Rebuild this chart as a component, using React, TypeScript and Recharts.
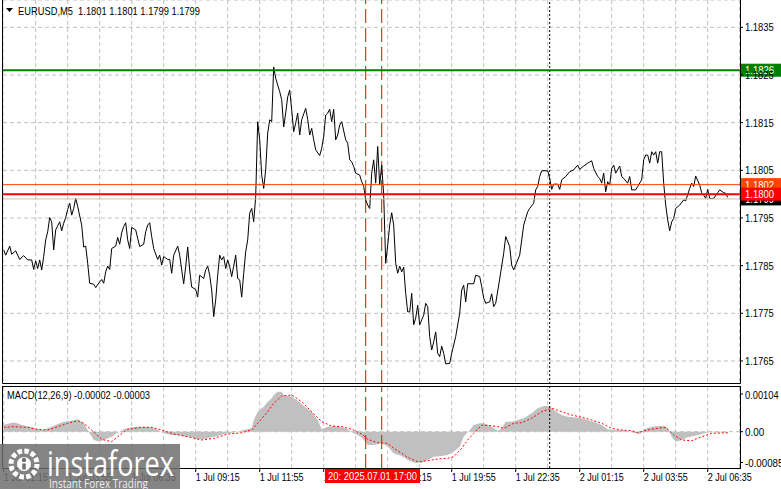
import React from "react";
import {
  ComposedChart,
  Line,
  Area,
  XAxis,
  YAxis,
  CartesianGrid,
  ReferenceLine,
} from "recharts";

// ── Data ─────────────────────────────────────────────────────────────
// bar index (M5 bars from 1 Jul 01:15) → close
const priceSeries: [number, number][] = [
  [0, 1.17883], [1, 1.17872], [3, 1.17891], [4, 1.17874], [6, 1.17881], [7, 1.17872], [8, 1.17863],
  [10, 1.17871], [12, 1.17862], [14, 1.17862], [15, 1.17842], [16, 1.1786], [17, 1.17844], [18, 1.17862],
  [19, 1.17841], [20, 1.17869], [21, 1.17904], [22, 1.17921], [23, 1.17951], [24, 1.17942], [25, 1.17883],
  [26, 1.17925], [28, 1.17942], [29, 1.17923], [30, 1.17939], [31, 1.17951], [32, 1.17968], [33, 1.17981],
  [34, 1.17956], [35, 1.1797], [36, 1.17991], [37, 1.17974], [39, 1.17935], [40, 1.17889], [41, 1.17891],
  [42, 1.17855], [43, 1.17813], [45, 1.17811], [46, 1.17804], [48, 1.17816], [49, 1.17821], [50, 1.17813],
  [51, 1.17837], [52, 1.17849], [53, 1.17842], [54, 1.17886], [56, 1.17891], [57, 1.17909], [58, 1.17895],
  [59, 1.17919], [60, 1.17932], [61, 1.1794], [62, 1.17904], [63, 1.17886], [64, 1.1793], [66, 1.17925],
  [67, 1.17907], [68, 1.1789], [70, 1.17895], [71, 1.17921], [72, 1.17935], [73, 1.1794], [74, 1.17911],
  [75, 1.17886], [77, 1.17863], [78, 1.17872], [79, 1.17851], [80, 1.17869], [82, 1.17863], [83, 1.17863],
  [84, 1.17834], [85, 1.17872], [87, 1.17891], [88, 1.17872], [89, 1.17841], [90, 1.17812], [91, 1.17848],
  [92, 1.17889], [93, 1.17841], [94, 1.17805], [96, 1.178], [97, 1.17784], [98, 1.1783], [100, 1.17823],
  [101, 1.17841], [102, 1.17849], [103, 1.1783], [104, 1.17799], [105, 1.17743], [106, 1.17778], [107, 1.1783],
  [108, 1.17872], [109, 1.17862], [110, 1.17869], [111, 1.17844], [112, 1.17862], [113, 1.17848], [114, 1.17827],
  [115, 1.17849], [116, 1.17872], [117, 1.17823], [118, 1.1782], [119, 1.17784], [120, 1.17834], [121, 1.17879],
  [122, 1.17904], [123, 1.1796], [124, 1.1797], [125, 1.17942], [126, 1.17995], [127, 1.18152], [128, 1.18114],
  [129, 1.1804], [130, 1.18012], [131, 1.18051], [132, 1.18128], [133, 1.18156], [134, 1.18152], [135, 1.18267],
  [136, 1.18243], [138, 1.18215], [139, 1.18198], [140, 1.18141], [141, 1.1817], [142, 1.18204], [143, 1.18218],
  [144, 1.18177], [145, 1.18131], [146, 1.18149], [147, 1.1817], [148, 1.18124], [149, 1.18156], [151, 1.1818],
  [152, 1.18157], [153, 1.18124], [154, 1.18138], [155, 1.18114], [156, 1.18093], [158, 1.18081], [159, 1.18096],
  [160, 1.18121], [161, 1.18166], [162, 1.1817], [163, 1.18178], [164, 1.18152], [165, 1.18178], [166, 1.18114],
  [167, 1.18124], [168, 1.18145], [169, 1.18152], [171, 1.18114], [172, 1.18107], [173, 1.18072], [174, 1.18068],
  [175, 1.18058], [176, 1.18044], [178, 1.1804], [179, 1.18026], [180, 1.18016], [181, 1.17988], [182, 1.17977],
  [183, 1.1797], [184, 1.18044], [185, 1.18072], [186, 1.18023], [187, 1.181], [188, 1.18019], [189, 1.18061],
  [190, 1.17998], [191, 1.17855], [192, 1.17893], [193, 1.17935], [194, 1.17961], [195, 1.17935], [196, 1.17855],
  [197, 1.17834], [198, 1.17849], [199, 1.17837], [200, 1.17847], [201, 1.17792], [202, 1.17753], [203, 1.17753],
  [204, 1.17792], [205, 1.17726], [206, 1.1774], [207, 1.17767], [208, 1.17726], [210, 1.17746], [211, 1.17771],
  [212, 1.17764], [213, 1.17701], [214, 1.17673], [215, 1.1769], [216, 1.17711], [217, 1.17666], [218, 1.17659],
  [219, 1.17681], [220, 1.17666], [221, 1.17644], [223, 1.17645], [224, 1.17666], [226, 1.17701], [228, 1.1775],
  [229, 1.17799], [230, 1.17809], [231, 1.17774], [232, 1.17812], [235, 1.17812], [236, 1.1783], [238, 1.17827],
  [239, 1.17806], [240, 1.17782], [241, 1.17771], [243, 1.17774], [244, 1.17791], [245, 1.17764], [246, 1.17771],
  [248, 1.17822], [250, 1.17876], [251, 1.17911], [253, 1.1789], [254, 1.17851], [255, 1.17841], [258, 1.17872],
  [260, 1.17935], [262, 1.17963], [263, 1.1797], [265, 1.17981], [266, 1.18009], [267, 1.18016], [268, 1.18037],
  [269, 1.18049], [272, 1.18049], [273, 1.18033], [274, 1.1801], [275, 1.18021], [277, 1.18021], [278, 1.1801],
  [279, 1.1803], [281, 1.18037], [283, 1.18047], [285, 1.18051], [287, 1.18061], [288, 1.18052], [290, 1.18059],
  [292, 1.18065], [294, 1.1807], [295, 1.18054], [297, 1.18037], [298, 1.18033], [299, 1.18023], [300, 1.18044],
  [301, 1.18005], [302, 1.18026], [303, 1.18019], [304, 1.18054], [305, 1.18061], [306, 1.18044], [308, 1.18059],
  [309, 1.18037], [310, 1.18033], [312, 1.18023], [313, 1.18037], [314, 1.18009], [316, 1.18009], [317, 1.18016],
  [319, 1.1803], [320, 1.18072], [321, 1.18082], [322, 1.18082], [323, 1.18065], [324, 1.18089], [325, 1.18082],
  [326, 1.18089], [327, 1.18065], [328, 1.18089], [329, 1.18089], [330, 1.18023], [331, 1.17977], [332, 1.17946],
  [333, 1.17923], [334, 1.17942], [335, 1.17949], [336, 1.1797], [338, 1.17977], [340, 1.17988], [341, 1.17986],
  [343, 1.18012], [344, 1.18023], [345, 1.18016], [346, 1.18038], [348, 1.18019], [349, 1.18003], [350, 1.17998],
  [351, 1.17991], [352, 1.1801], [353, 1.17991], [355, 1.17991], [357, 1.18003], [358, 1.18009], [360, 1.18003],
  [361, 1.18002], [362, 1.17993],
];

const macdHist: [number, number][] = [
  [0, 0.000185], [4, 0.000248], [6, 0.000248], [9, 0.000185], [14, 0.000121], [17, 0.000066], [20, 0.000047],
  [24, 0.000138], [27, 0.000212], [30, 0.000276], [34, 0.000303], [37, 0.000342], [40, 0.000232], [42, 0.000047],
  [44, -0.000138], [45, -0.000229], [48, -0.000276], [50, -0.000229], [54, -0.000138], [57, -0.000028],
  [60, 0.000066], [64, 0.000121], [67, 0.000138], [70, 0.000138], [74, 0.000121], [77, 0.000047], [80, -0.000044],
  [84, -0.000091], [87, -0.000091], [90, -0.000119], [94, -0.000155], [97, -0.00021], [100, -0.00021],
  [104, -0.000155], [107, -0.000119], [110, -0.000064], [114, -0.000028], [117, 0], [120, 0.000047],
  [124, 0.000094], [125, 0.000323], [127, 0.000552], [129, 0.000646], [130, 0.00069], [132, 0.000828],
  [134, 0.000921], [135, 0.001013], [137, 0.001104], [139, 0.001104], [140, 0.001013], [144, 0.000966],
  [147, 0.000855], [150, 0.000709], [154, 0.000552], [157, 0.000323], [159, 0.000066], [162, 0.000138],
  [165, 0.000157], [169, 0.000121], [172, 0.000066], [175, -0.000044], [179, -0.000155], [182, -0.000367],
  [185, -0.000367], [189, -0.00032], [192, -0.00041], [195, -0.000596], [199, -0.00067], [202, -0.000781],
  [205, -0.000855], [209, -0.000855], [212, -0.000781], [215, -0.00069], [219, -0.00067], [222, -0.000643],
  [225, -0.000552], [228, -0.000414], [230, -0.000138], [233, 0.000047], [235, 0.000185], [238, 0.000232],
  [240, 0.000232], [244, 0.000138], [247, 0.000028], [249, 0.000094], [251, 0.000276], [254, 0.000276],
  [257, 0.000323], [260, 0.00037], [264, 0.000508], [267, 0.000646], [270, 0.000709], [273, 0.000709],
  [275, 0.000599], [279, 0.000461], [282, 0.000414], [285, 0.000397], [289, 0.00037], [292, 0.000323],
  [295, 0.000276], [299, 0.000185], [302, 0.000066], [305, 0.000047], [309, 0.000047], [312, 0.000028],
  [315, -0.000028], [318, -0.000064], [320, 0.000066], [324, 0.000138], [327, 0.000157], [330, 0.000157],
  [332, 0.000094], [334, -0.000138], [336, -0.000276], [339, -0.000229], [342, -0.000155], [345, -0.000119],
  [349, -0.000064], [352, -0.000018], [355, -0.000018], [362, -0.00002],
];

const macdSignal: [number, number][] = [
  [0, 0.000121], [5, 0.000138], [12, 0.000121], [17, 0.000066], [22, 0.000047], [27, 0.000138], [32, 0.000232],
  [37, 0.000303], [40, 0.000232], [44, 0.000047], [49, -0.00021], [54, -0.000276], [57, -0.000138], [62, 0.000066],
  [69, 0.000121], [74, 0.000121], [79, 0.000047], [85, -0.000064], [92, -0.000138], [99, -0.000229],
  [105, -0.000184], [112, -0.000064], [119, -0.000028], [124, 0.000047], [127, 0.000232], [132, 0.000552],
  [135, 0.000784], [139, 0.000985], [144, 0.001013], [149, 0.000828], [154, 0.000552], [159, 0.000276],
  [164, 0.000157], [169, 0.000138], [174, 0.000066], [179, -0.000064], [182, -0.00021], [187, -0.000303],
  [192, -0.00032], [195, -0.000458], [199, -0.000596], [202, -0.000706], [207, -0.000828], [212, -0.0008],
  [217, -0.000753], [222, -0.000734], [225, -0.00069], [229, -0.000458], [232, -0.000229], [235, -0.000044],
  [239, 0.000177], [242, 0.000177], [247, 0.000138], [250, 0.000094], [255, 0.000232], [259, 0.000248],
  [264, 0.00037], [269, 0.000552], [274, 0.000646], [279, 0.000552], [284, 0.000461], [289, 0.000397],
  [294, 0.000323], [299, 0.000232], [304, 0.000094], [309, 0.000047], [314, 0.000028], [317, -0.000028],
  [322, 0.000047], [327, 0.000094], [331, 0.000121], [335, -0.000091], [339, -0.000229], [344, -0.000248],
  [349, -0.000138], [354, -0.000044], [362, -0.00003],
];

const priceTicks = [1.1765, 1.1775, 1.1785, 1.1795, 1.1805, 1.1815, 1.1825, 1.1835];
const macdTicks = [-0.00085, 0, 0.00104];
const timeLabels = [
  "1 Jul 01:15", "1 Jul 03:55", "1 Jul 06:35", "1 Jul 09:15", "1 Jul 11:55", "1 Jul 14:35",
  "1 Jul 17:15", "1 Jul 19:55", "1 Jul 22:35", "2 Jul 01:15", "2 Jul 03:55", "2 Jul 06:35",
];

const symbol = "EURUSD,M5";
const lastOhlc = [1.1801, 1.1801, 1.1799, 1.1799];
const macdValues = [-0.00002, -0.00003];
const buyLevel = 1.1826;
const sellLevels = [1.1802, 1.18];
const bidPrice = 1.1799;
const markerBars = [181, 189];
const daySeparatorBar = 273;
const crossLabel = "20: 2025.07.01 17:00";

// ── Layout ───────────────────────────────────────────────────────────

const FONT = "'Liberation Sans', Arial, sans-serif";
const BARS_PER_LABEL = 32;
const gridTicks = Array.from({ length: 24 }, (_, k) => k * 16);
const xDomain: [number, number] = [-0.35, 368.15];
const priceDomain: [number, number] = [1.176017, 1.184073];
const macdDomain: [number, number] = [-0.0010015, 0.0012333];

const priceData = priceSeries.map(([bar, price]) => ({ bar, price }));
const histData = macdHist.map(([bar, value]) => ({ bar, value }));
const signalData = macdSignal.map(([bar, value]) => ({ bar, value }));

const fit = (s: string) => s.length * 4.8;

const PriceTick = ({ x, y, payload }: any) => {
  const s = payload.value.toFixed(4);
  return (
    <text x={x} y={y + 4} fontSize={11} fill="#000" fontFamily={FONT} textAnchor="start"
      textLength={fit(s)} lengthAdjust="spacingAndGlyphs">{s}</text>
  );
};

const MacdTick = ({ x, y, payload }: any) => {
  const s = payload.value === 0 ? "0.00" : payload.value.toFixed(5);
  return (
    <text x={x} y={y + 4} fontSize={11} fill="#000" fontFamily={FONT} textAnchor="start"
      textLength={fit(s)} lengthAdjust="spacingAndGlyphs">{s}</text>
  );
};

const TimeTick = ({ x, y, payload }: any) => {
  if (payload.value % BARS_PER_LABEL !== 0) return <g />;
  const label = timeLabels[payload.value / BARS_PER_LABEL];
  if (!label) return <g />;
  return (
    <g>
      <line x1={x} x2={x} y1={y} y2={y + 4} stroke="#000" />
      <text x={x} y={y + 13} fontSize={11} fill="#000" fontFamily={FONT} textAnchor="start"
        textLength={44} lengthAdjust="spacingAndGlyphs">{label}</text>
    </g>
  );
};

const tagFor = (fill: string, text: string) => (props: any) => {
  const { x, y, width } = props.viewBox;
  return (
    <g>
      <rect x={x + width + 1} y={y - 6.5} width={40} height={13} fill={fill} />
      <text x={x + width + 5} y={y + 4} fontSize={11} fill="#fff" fontFamily={FONT}
        textLength={29} lengthAdjust="spacingAndGlyphs">{text}</text>
    </g>
  );
};

// ── Component ────────────────────────────────────────────────────────

export default function App() {
  const header = `${symbol}  ${lastOhlc.map((v) => v.toFixed(4)).join(" ")}`;
  const macdHeader = `MACD(12,26,9) ${macdValues.map((v) => v.toFixed(5)).join(" ")}`;

  return (
    <div style={{ position: "absolute", left: 0, top: 0, width: 781, height: 489, background: "#fff", overflow: "hidden" }}>
      <div style={{ position: "absolute", left: 0, top: 0 }}>
        <ComposedChart width={781} height={384} margin={{ top: 0, right: 0, bottom: 0, left: 3 }}>
          <CartesianGrid stroke="#c0c0c0" strokeDasharray="4 3" />
          <XAxis type="number" dataKey="bar" domain={xDomain} ticks={gridTicks} allowDataOverflow hide />
          <YAxis orientation="right" width={41} domain={priceDomain} ticks={priceTicks} allowDataOverflow
            axisLine={false} tickLine={{ stroke: "#000" }} tickSize={3} tickMargin={2} tick={<PriceTick />} />
          {markerBars.map((b) => (
            <ReferenceLine key={b} x={b} stroke="#ff0000" strokeDasharray="14 5" />
          ))}
          <ReferenceLine x={daySeparatorBar} stroke="#000" strokeDasharray="2 2" />
          <Line data={priceData} dataKey="price" type="linear" stroke="#000" strokeWidth={1} dot={false}
            isAnimationActive={false} />
          <ReferenceLine y={bidPrice} stroke="#c0c0c0" label={tagFor("#000", bidPrice.toFixed(4))} />
          <ReferenceLine y={buyLevel} stroke="#008000" strokeWidth={2} label={tagFor("#008000", buyLevel.toFixed(4))} />
          <ReferenceLine y={sellLevels[0]} stroke="#ff4500" strokeWidth={1} label={tagFor("#ff4500", sellLevels[0].toFixed(4))} />
          <ReferenceLine y={sellLevels[1]} stroke="#ff0000" strokeWidth={2} label={tagFor("#ff0000", sellLevels[1].toFixed(4))} />
        </ComposedChart>
      </div>

      <div style={{ position: "absolute", left: 0, top: 386 }}>
        <ComposedChart width={781} height={103} margin={{ top: 1, right: 0, bottom: 0, left: 3 }}>
          <CartesianGrid horizontal={false} stroke="#c0c0c0" strokeDasharray="4 3" />
          <XAxis type="number" dataKey="bar" domain={xDomain} ticks={gridTicks} allowDataOverflow interval={0}
            height={21} axisLine={false} tickLine={false} tickSize={0} tickMargin={0} tick={<TimeTick />} />
          <YAxis orientation="right" width={41} domain={macdDomain} ticks={macdTicks} allowDataOverflow
            axisLine={false} tickLine={{ stroke: "#000" }} tickSize={3} tickMargin={2} tick={<MacdTick />} />
          <ReferenceLine y={0} stroke="#c0c0c0" strokeDasharray="4 3" />
          <Area data={histData} dataKey="value" type="linear" stroke="none" fill="#c0c0c0" fillOpacity={1}
            baseValue={0} isAnimationActive={false} />
          <Line data={signalData} dataKey="value" type="linear" stroke="#ff0000" strokeWidth={1}
            strokeDasharray="2 2" dot={false} isAnimationActive={false} />
          {markerBars.map((b) => (
            <ReferenceLine key={b} x={b} stroke="#ff0000" strokeDasharray="14 5" />
          ))}
          <ReferenceLine x={daySeparatorBar} stroke="#000" strokeDasharray="2 2" />
        </ComposedChart>
      </div>

      <svg width={781} height={489} style={{ position: "absolute", left: 0, top: 0, pointerEvents: "none" }}>
        {/* panel frames */}
        <polyline points="2.5,0 2.5,383.5 740.5,383.5 740.5,0" fill="none" stroke="#000" />
        <rect x={2.5} y={386.5} width={738} height={82} fill="none" stroke="#000" />

        {/* headers */}
        <polygon points="6,8 13,8 9.5,12" fill="#000" />
        <text x={18} y={15} fontSize={11} fill="#000" fontFamily={FONT} style={{ whiteSpace: "pre" }}
          textLength={182} lengthAdjust="spacingAndGlyphs">{header}</text>
        <text x={7} y={399} fontSize={11} fill="#000" fontFamily={FONT}
          textLength={143} lengthAdjust="spacingAndGlyphs">{macdHeader}</text>

        {/* crosshair time label */}
        <rect x={325} y={469} width={95} height={14} fill="#ff0000" />
        <text x={328} y={480} fontSize={11} fill="#fff" fontFamily={FONT}
          textLength={89} lengthAdjust="spacingAndGlyphs">{crossLabel}</text>

        {/* watermark */}
        <rect x={0} y={444} width={180} height={45} fill="#6e6e6e" fillOpacity={0.85} />
        <circle cx={24} cy={464} r={13} fill="none" stroke="#fff" strokeWidth={5} strokeDasharray="4.5 2.3" />
        <circle cx={24} cy={464} r={7} fill="#fff" />
        <circle cx={24} cy={460} r={2.2} fill="#6e6e6e" />
        <rect x={22.3} y={463.5} width={3.4} height={6} fill="#6e6e6e" />
        <text x={47} y={476} fontSize={34} fill="#fff" fontFamily="'Open Sans', sans-serif"
          textLength={127} lengthAdjust="spacingAndGlyphs">instaforex</text>
        <text x={49} y={488} fontSize={12} fill="#eee" fontFamily="'Open Sans', sans-serif"
          textLength={99} lengthAdjust="spacingAndGlyphs">Instant Forex Trading</text>
      </svg>
    </div>
  );
}
